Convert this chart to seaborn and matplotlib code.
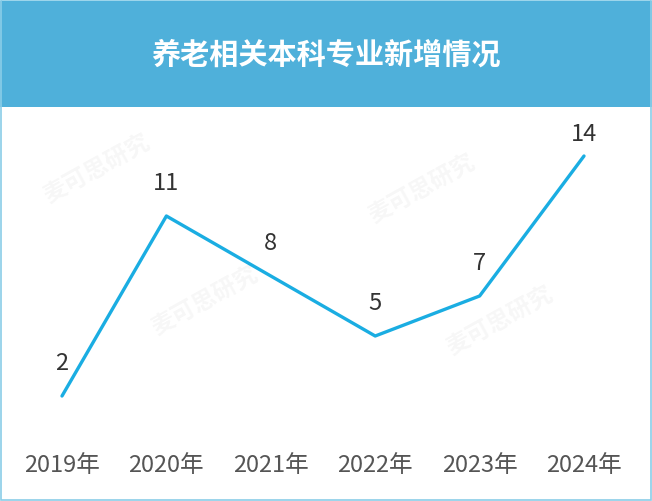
import numpy as np
import pandas as pd
import matplotlib
matplotlib.use("Agg")
import matplotlib.pyplot as plt
import seaborn as sns
from matplotlib.patches import Rectangle

years = ['2019年', '2020年', '2021年', '2022年', '2023年', '2024年']
counts = [2, 11, 8, 5, 7, 14]
title = '养老相关本科专业新增情况'
watermark = '麦可思研究'

df = pd.DataFrame({'year': years, 'count': counts, 'pos': np.arange(len(years))})

sns.set_theme(style='white')
plt.rcParams['font.family'] = ['Noto Sans CJK SC', 'DejaVu Sans']

W, H = 652, 502
fig = plt.figure(figsize=(W / 100, H / 100), dpi=100)
fig.patch.set_facecolor('white')

# title bar
fig.patches.append(Rectangle((0, (H - 108) / H), 1, 106 / H, transform=fig.transFigure,
                             facecolor='#4FB0DA', edgecolor='none', zorder=0))
fig.patches.append(Rectangle((0.001, 0.001), 0.998, 0.998, transform=fig.transFigure,
                             facecolor='none', edgecolor='#8ACDE8', lw=1.2, zorder=5))
fig.text(0.5, (H - 55) / H, title, color='white', fontsize=21, fontweight='bold',
         ha='center', va='center')

ax = fig.add_axes([0, (H - 450) / H, 1, 342 / H])
ax.set_facecolor('none')

# faint watermarks
for wx, wy in [(97, 168), (205, 300), (422, 188), (500, 320)]:
    fig.text(wx / W, 1 - wy / H, watermark, color='#000000', alpha=0.035, fontsize=17,
             fontweight='bold', rotation=29, ha='center', va='center', zorder=0)

sns.lineplot(data=df, x='pos', y='count', ax=ax, color='#1AADE2', linewidth=2.4)

ax.set_xlim(-62 / 104.4, 5 + 68 / 104.4)
ax.set_ylim(-0.65, 16.45)
ax.set_xticks(df['pos'])
ax.set_xticklabels(years, fontsize=17, color='#555555')
ax.tick_params(axis='x', length=0, pad=3)
ax.set_yticks([])
ax.set_xlabel('')
ax.set_ylabel('')
for s in ax.spines.values():
    s.set_visible(False)

for p, v in zip(df['pos'], df['count']):
    off = 16 if v == max(counts) else 24
    ax.annotate(str(v), (p, v), xytext=(0, off), textcoords='offset points',
                ha='center', va='center', fontsize=17, color='#333333')

fig.savefig('out.png', dpi=100)
